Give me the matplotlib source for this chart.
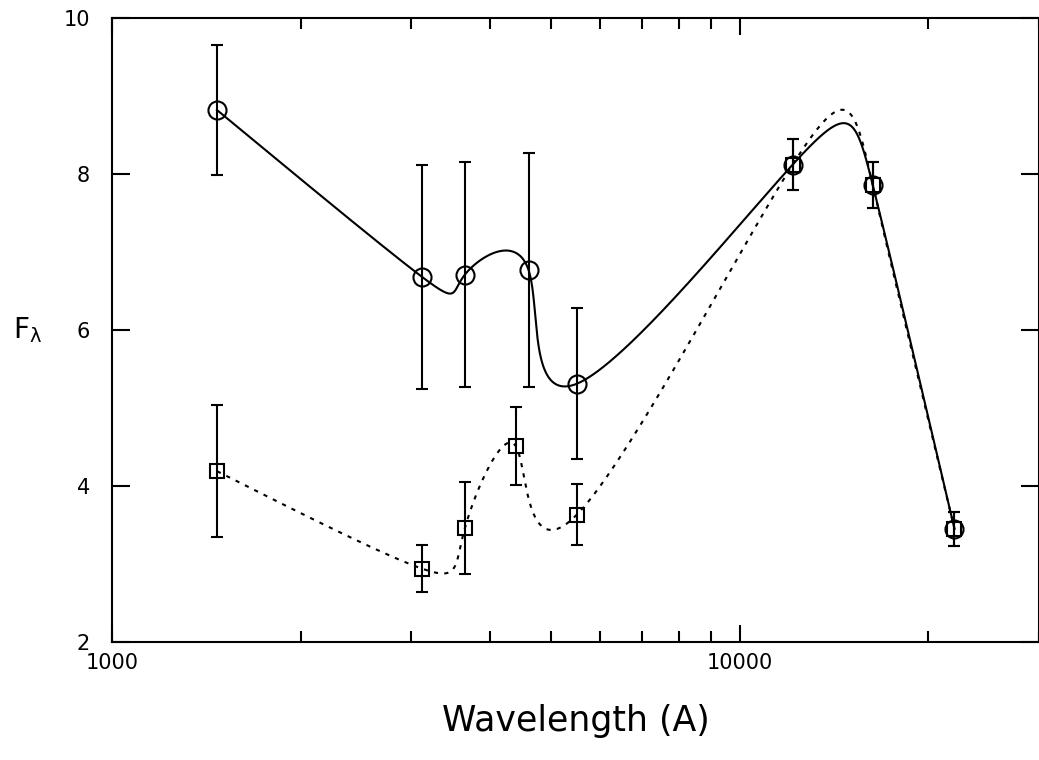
import numpy as np
import matplotlib
matplotlib.use("Agg")
import matplotlib.pyplot as plt
from matplotlib.ticker import FixedLocator, NullFormatter

# wavelengths (A) of the photometric points
wave_circ = [1470, 3120, 3650, 4610, 5500, 12150, 16300, 22000]
flux_circ = [8.82, 6.68, 6.71, 6.77, 5.31, 8.12, 7.86, 3.45]
err_circ = [0.83, 1.43, 1.44, 1.50, 0.97, 0.33, 0.29, 0.22]

wave_sq = [1470, 3120, 3650, 4400, 5500, 12150, 16300, 22000]
flux_sq = [4.19, 2.94, 3.46, 4.51, 3.63, 8.12, 7.86, 3.45]
err_sq = [0.85, 0.30, 0.59, 0.50, 0.39, 0.33, 0.29, 0.22]

x_major = [1000, 10000]
x_minor = [2000, 3000, 4000, 5000, 6000, 7000, 8000, 9000, 20000, 30000]
y_ticks = [2, 4, 6, 8, 10]


def spline_coef(t, y):
    """Second derivatives of a natural cubic spline"""
    n = len(t)
    h = np.diff(t)
    A = np.zeros((n, n))
    b = np.zeros(n)
    A[0, 0] = 1
    A[-1, -1] = 1
    for i in range(1, n - 1):
        A[i, i - 1] = h[i - 1]
        A[i, i] = 2 * (h[i - 1] + h[i])
        A[i, i + 1] = h[i]
        b[i] = 6 * ((y[i + 1] - y[i]) / h[i] - (y[i] - y[i - 1]) / h[i - 1])
    return np.linalg.solve(A, b)


def spline_eval(t, y, m, ts):
    idx = np.clip(np.searchsorted(t, ts) - 1, 0, len(t) - 2)
    t0, t1 = t[idx], t[idx + 1]
    hh = t1 - t0
    a = t1 - ts
    c = ts - t0
    return (m[idx] * a ** 3 / (6 * hh) + m[idx + 1] * c ** 3 / (6 * hh)
            + (y[idx] / hh - m[idx] * hh / 6) * a
            + (y[idx + 1] / hh - m[idx + 1] * hh / 6) * c)


def smooth_curve(wave, flux):
    """Parametric spline in (log wavelength, flux), point index as parameter"""
    u = np.log10(wave)
    v = np.asarray(flux, float)
    t = np.arange(len(u), dtype=float)
    ts = np.linspace(0, t[-1], 3000)
    us = spline_eval(t, u, spline_coef(t, u), ts)
    vs = spline_eval(t, v, spline_coef(t, v), ts)
    return 10 ** us, vs


def main():
    plt.rcParams['font.family'] = ['DejaVu Sans']
    fig = plt.figure(figsize=(10.39, 7.6), dpi=100)
    ax = fig.add_axes([112 / 1039, 1 - 642 / 760, 927 / 1039, 624 / 760])

    ax.set_xscale("log")
    ax.set_xlim(1000, 30000)
    ax.set_ylim(2, 10)

    cx, cy = smooth_curve(wave_circ, flux_circ)
    ax.plot(cx, cy, color="black", lw=1.5)
    sx, sy = smooth_curve(wave_sq, flux_sq)
    ax.plot(sx, sy, color="black", lw=1.5, linestyle=(0, (2, 3)))

    ax.errorbar(wave_circ, flux_circ, yerr=err_circ, fmt="o", ms=13,
                mfc="none", mec="black", mew=1.5, ecolor="black",
                elinewidth=1.5, capsize=4.5, capthick=1.5)
    ax.errorbar(wave_sq, flux_sq, yerr=err_sq, fmt="s", ms=9.5,
                mfc="none", mec="black", mew=1.5, ecolor="black",
                elinewidth=1.5, capsize=4.5, capthick=1.5)

    ax.xaxis.set_major_locator(FixedLocator(x_major))
    ax.xaxis.set_minor_locator(FixedLocator(x_minor))
    ax.xaxis.set_minor_formatter(NullFormatter())
    ax.set_xticklabels(["1000", "10000"])
    ax.set_yticks(y_ticks)
    ax.set_yticklabels([str(v) for v in y_ticks])
    ax.tick_params(which="both", direction="in", top=True, right=True,
                   width=1.5, labelsize=15)
    ax.tick_params(axis="x", which="major", length=12, pad=8)
    ax.tick_params(axis="x", which="minor", length=8)
    ax.tick_params(axis="y", which="major", length=13, pad=16)
    for s in ax.spines.values():
        s.set_linewidth(1.5)

    ax.set_xlabel("Wavelength (A)", fontsize=25, labelpad=22)
    ax.set_ylabel(r"$\mathregular{F_{λ}}$", fontsize=20, rotation=0,
                  labelpad=26, va="center")

    fig.savefig("out.png", dpi=100)


if __name__ == "__main__":
    main()
